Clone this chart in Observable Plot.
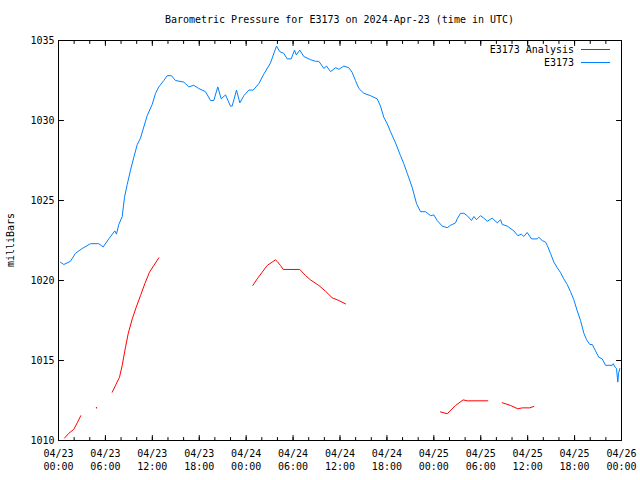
<!DOCTYPE html>
<html><head><meta charset="utf-8">
<script src="https://cdn.jsdelivr.net/npm/d3@7"></script>
<script src="https://cdn.jsdelivr.net/npm/@observablehq/plot@0.6"></script>
<style>
body{margin:0;background:#fff;font-family:"DejaVu Sans Mono",monospace;}
#wrap{position:relative;width:640px;height:480px;}
.t{position:absolute;font-size:10px;white-space:pre;color:#000;line-height:10px;}
.sw{position:absolute;height:0;width:29px;border-top:1px solid;}
</style></head><body><div id="wrap"></div>
<script>
// hours since 2024-04-23 00:00 UTC
const startUTC = Date.UTC(2024, 3, 23);
const pressure = [ // [hour, mb] E3173 observations
[0.26,1021.14],[0.68,1021.0],[1.53,1021.2],[2.17,1021.7],[3.03,1022.0],[4.09,1022.3],[5.15,1022.3],[5.72,1022.1],
[6.43,1022.6],[7.20,1023.1],[7.42,1022.9],[7.71,1023.5],[8.15,1024.0],[8.44,1025.2],[8.79,1026.0],[9.21,1026.9],
[9.63,1027.7],[10.07,1028.5],[10.49,1028.9],[10.91,1029.6],[11.34,1030.3],[11.98,1031.0],[12.41,1031.7],[12.83,1032.1],
[13.47,1032.5],[13.90,1032.8],[14.45,1032.8],[14.96,1032.5],[16.03,1032.4],[16.66,1032.1],[17.30,1032.2],[17.94,1032.0],
[18.80,1031.8],[19.44,1031.25],[19.86,1031.25],[20.37,1032.1],[20.81,1031.35],[21.36,1031.6],[21.99,1030.9],[22.21,1030.9],
[22.76,1031.9],[23.19,1031.1],[23.70,1031.55],[24.34,1031.9],[24.90,1031.9],[25.62,1032.3],[26.26,1032.9],[27.11,1033.6],
[27.88,1034.65],[28.30,1034.3],[28.81,1034.2],[29.25,1033.85],[29.76,1033.85],[30.18,1034.4],[30.40,1034.1],[30.86,1034.4],
[31.37,1034.0],[32.23,1033.8],[32.87,1033.7],[33.29,1033.7],[33.73,1033.4],[33.93,1033.25],[34.28,1033.4],[34.79,1033.05],
[35.43,1033.3],[35.85,1033.2],[36.49,1033.4],[37.13,1033.3],[37.56,1033.0],[37.98,1032.5],[38.41,1032.0],[39.05,1031.7],
[39.90,1031.55],[40.76,1031.35],[41.18,1030.9],[41.60,1030.2],[42.04,1029.8],[42.46,1029.3],[43.10,1028.6],[43.74,1027.8],
[44.16,1027.3],[44.60,1026.7],[45.24,1025.8],[45.79,1024.8],[46.30,1024.3],[46.94,1024.3],[47.58,1024.05],[48.00,1024.1],
[48.43,1023.75],[49.07,1023.4],[49.71,1023.3],[50.13,1023.45],[50.77,1023.6],[50.99,1023.85],[51.41,1024.2],[51.84,1024.2],
[52.27,1024.05],[52.82,1023.75],[53.12,1024.0],[53.46,1023.8],[53.97,1024.05],[54.39,1023.9],[54.83,1023.7],[55.47,1023.9],
[56.11,1023.6],[56.53,1023.8],[56.75,1023.5],[57.39,1023.4],[58.23,1023.1],[58.74,1022.8],[59.18,1022.9],[59.51,1022.75],
[59.94,1023.0],[60.49,1022.6],[61.22,1022.6],[61.43,1022.7],[61.86,1022.5],[62.28,1022.4],[62.50,1022.2],[62.92,1021.7],
[63.35,1021.15],[63.78,1020.8],[64.20,1020.5],[64.62,1020.1],[65.06,1019.75],[65.48,1019.3],[65.90,1018.8],[66.34,1018.1],
[66.76,1017.5],[67.19,1016.7],[67.53,1016.3],[67.95,1016.0],[68.26,1016.0],[68.68,1015.6],[69.10,1015.2],[69.54,1015.1],
[69.96,1014.7],[70.81,1014.7],[70.94,1014.8],[71.23,1014.55],[71.36,1014.5],[71.53,1013.65],[71.62,1014.2],[71.79,1014.5]
];
const analysis = [ // [hour, mb]; null marks a gap
[0.77,1010.15],[1.32,1010.45],[1.96,1010.7],[2.39,1011.1],[2.85,1011.55],
[3.8,null],
[4.86,1012.05],
[5.8,null],
[6.87,1013.02],[7.29,1013.44],[7.80,1013.95],[8.15,1014.7],[8.57,1015.83],[8.91,1016.67],[9.43,1017.6],[9.94,1018.33],
[10.49,1019.06],[11.04,1019.8],[11.64,1020.52],[12.19,1020.94],[12.83,1021.42],
[18.0,null],
[24.85,1019.69],[25.41,1020.1],[26.05,1020.52],[26.69,1020.94],[27.33,1021.15],[27.75,1021.29],[27.97,1021.19],[28.39,1020.94],
[28.74,1020.69],[30.86,1020.69],[31.59,1020.31],[32.23,1020.04],[33.29,1019.69],[34.15,1019.33],[35.0,1018.92],[35.85,1018.75],[36.71,1018.54],
[42.0,null],
[48.85,1011.79],[49.71,1011.67],[50.77,1012.19],[51.76,1012.54],[52.27,1012.48],[54.90,1012.48],
[55.8,null],
[56.75,1012.36],[57.81,1012.19],[58.74,1011.98],[59.30,1012.04],[60.27,1012.04],[60.79,1012.13]
];
const yTicks = [1010, 1015, 1020, 1025, 1030, 1035];
const majorHours = [0, 6, 12, 18, 24, 30, 36, 42, 48, 54, 60, 66, 72];
const minorHours = d3.range(0, 73, 2);
const titleText = "Barometric Pressure for E3173 on 2024-Apr-23 (time in UTC)";
const yLabelText = "milliBars";
const seriesNames = ["E3173 Analysis", "E3173"];
const seriesColors = ["#ff0000", "#0080ff"];

const toDate = h => new Date(startUTC + h * 3600e3);
const blue = pressure.map(([h, v]) => ({t: toDate(h), v}));
const red = analysis.map(([h, v]) => ({t: toDate(h), v}));
const redIsolated = red.filter((d, i) => d.v != null &&
  (i === 0 || red[i - 1].v == null) && (i === red.length - 1 || red[i + 1].v == null));
const major = majorHours.map(toDate);
const minor = minorHours.map(toDate);
const fmt = d3.utcFormat("%m/%d\n%H:%M");

// straight tick shape for inward ticks
const tickShape = {draw(c, l) { c.moveTo(0, 0); c.lineTo(0, -l); }};
const tick = (data, opts) => Plot.vector(data, {anchor: "start", shape: tickShape, stroke: "black", strokeWidth: 1, ...opts});

const chart = Plot.plot({
  width: 640, height: 480,
  marginLeft: 58, marginRight: 19, marginTop: 40, marginBottom: 40,
  style: {fontFamily: "DejaVu Sans Mono, monospace", fontSize: "10px", background: "white", color: "black"},
  x: {type: "utc", domain: [toDate(0), toDate(72)]},
  y: {domain: [1010, 1035]},
  marks: [
    Plot.line(red, {x: "t", y: "v", stroke: seriesColors[0], strokeWidth: 1}),
    Plot.dot(redIsolated, {x: "t", y: "v", r: 0.7, fill: seriesColors[0], stroke: null}),
    Plot.line(blue, {x: "t", y: "v", stroke: seriesColors[1], strokeWidth: 1}),
    Plot.frame({stroke: "black", strokeWidth: 1}),
    Plot.axisY(yTicks, {anchor: "left", tickSize: 0, tickPadding: 4, tickFormat: d3.format("d"), label: null}),
    Plot.axisX(major, {anchor: "bottom", tickSize: 0, tickPadding: 7, tickFormat: fmt, lineHeight: 1.3, label: null}),
    tick(yTicks, {y: d => d, frameAnchor: "left", rotate: 90, length: 5}),
    tick(yTicks, {y: d => d, frameAnchor: "right", rotate: -90, length: 5}),
    tick(major, {x: d => d, frameAnchor: "bottom", rotate: 0, length: 5}),
    tick(major, {x: d => d, frameAnchor: "top", rotate: 180, length: 5}),
    tick(minor, {x: d => d, frameAnchor: "bottom", rotate: 0, length: 3}),
    tick(minor, {x: d => d, frameAnchor: "top", rotate: 180, length: 3})
  ]
});
const wrap = document.getElementById("wrap");
wrap.appendChild(chart);

function addText(txt, css) {
  const el = document.createElement("div");
  el.className = "t"; el.textContent = txt;
  Object.assign(el.style, css);
  wrap.appendChild(el);
  return el;
}
addText(titleText, {left: "0px", width: "679px", top: "15px", textAlign: "center"});
addText(yLabelText, {left: "5px", top: "240px", transform: "translate(-50%,-50%) rotate(-90deg)", transformOrigin: "center", marginLeft: "6px"});
seriesNames.forEach((name, i) => {
  const top = 45 + i * 13;
  addText(name, {right: "66px", top: top + "px", textAlign: "right"});
  const sw = document.createElement("div");
  sw.className = "sw";
  Object.assign(sw.style, {left: "581px", top: (top + 4) + "px", borderColor: seriesColors[i]});
  wrap.appendChild(sw);
});
</script></body></html>
